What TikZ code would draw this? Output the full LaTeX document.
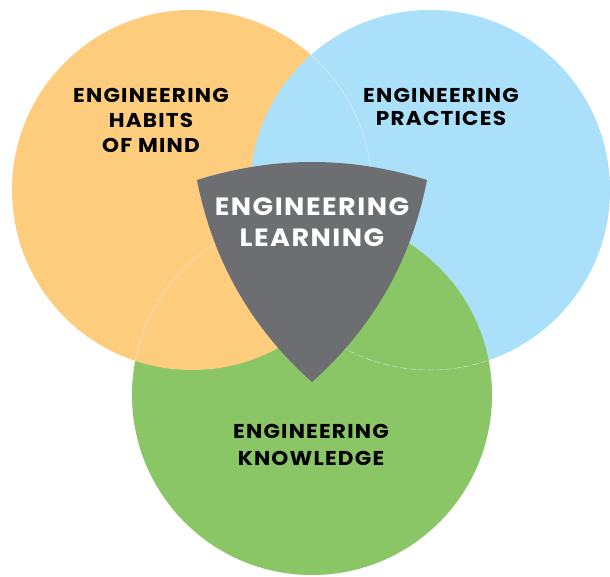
\documentclass[tikz,border=0pt]{standalone}
\usepackage{fontspec}
\setmainfont{Poppins}[FakeStretch=1.08, LetterSpace=6]
\definecolor{habits}{RGB}{253,204,125}
\definecolor{practices}{RGB}{171,224,250}
\definecolor{knowledge}{RGB}{138,198,101}
\definecolor{learning}{RGB}{109,110,113}
\tikzset{
  seam/.style={white, opacity=0.55, line width=0.5pt},
  label/.style={font=\bfseries\fontsize{20}{25}\selectfont, text=black, align=center, inner sep=0pt},
  biglabel/.style={font=\bfseries\fontsize{25}{31.5}\selectfont, text=white, align=center, inner sep=0pt}
}
\begin{document}
\begin{tikzpicture}[x=1pt,y=-1pt]
\useasboundingbox (0,0) rectangle (610,576);
\clip (0,0) rectangle (610,576);
\fill[white] (0,0) rectangle (610,576);
% circle centres
\coordinate (ho) at (192,190);
\coordinate (po) at (430,190);
\coordinate (ko) at (312,395);
% base layers: knowledge, habits, practices
\fill[knowledge] (ko) circle[radius=180pt];
\fill[habits] (ho) circle[radius=180pt];
\fill[practices] (po) circle[radius=180pt];
% knowledge lies over practices where they overlap
\begin{scope}
  \clip (ko) circle[radius=180pt];
  \fill[knowledge] (po) circle[radius=180pt];
\end{scope}
% faint outlines of the hidden circle edges
\begin{scope}
  \clip (po) circle[radius=180pt];
  \draw[seam] (ho) circle[radius=180pt];
\end{scope}
\begin{scope}
  \clip (ho) circle[radius=180pt];
  \draw[seam] (ko) circle[radius=180pt];
\end{scope}
\begin{scope}
  \clip (ko) circle[radius=180pt];
  \draw[seam, dash pattern=on 6pt off 3pt] (po) circle[radius=180pt];
\end{scope}
% shield in the centre
\coordinate (sa) at (197,180);
\coordinate (sb) at (427,180);
\coordinate (st) at (312,382);
\fill[learning] (sa) .. controls (273.7,156) and (350.3,156) .. (sb)
  .. controls (411.4,260.3) and (373.1,327.6) .. (st)
  .. controls (250.9,327.6) and (212.6,260.3) .. (sa) -- cycle;
% labels
\node[label] (habitsText) at (151,120) {ENGINEERING\\HABITS\\OF MIND};
\node[label, font=\bfseries\fontsize{20}{23.5}\selectfont] (practicesText) at (441,107) {ENGINEERING\\PRACTICES};
\node[label, font=\bfseries\fontsize{20}{27}\selectfont] (knowledgeText) at (311,444.5) {ENGINEERING\\KNOWLEDGE};
\node[biglabel] (learningText) at (312,222) {ENGINEERING\\LEARNING};
\end{tikzpicture}
\end{document}
